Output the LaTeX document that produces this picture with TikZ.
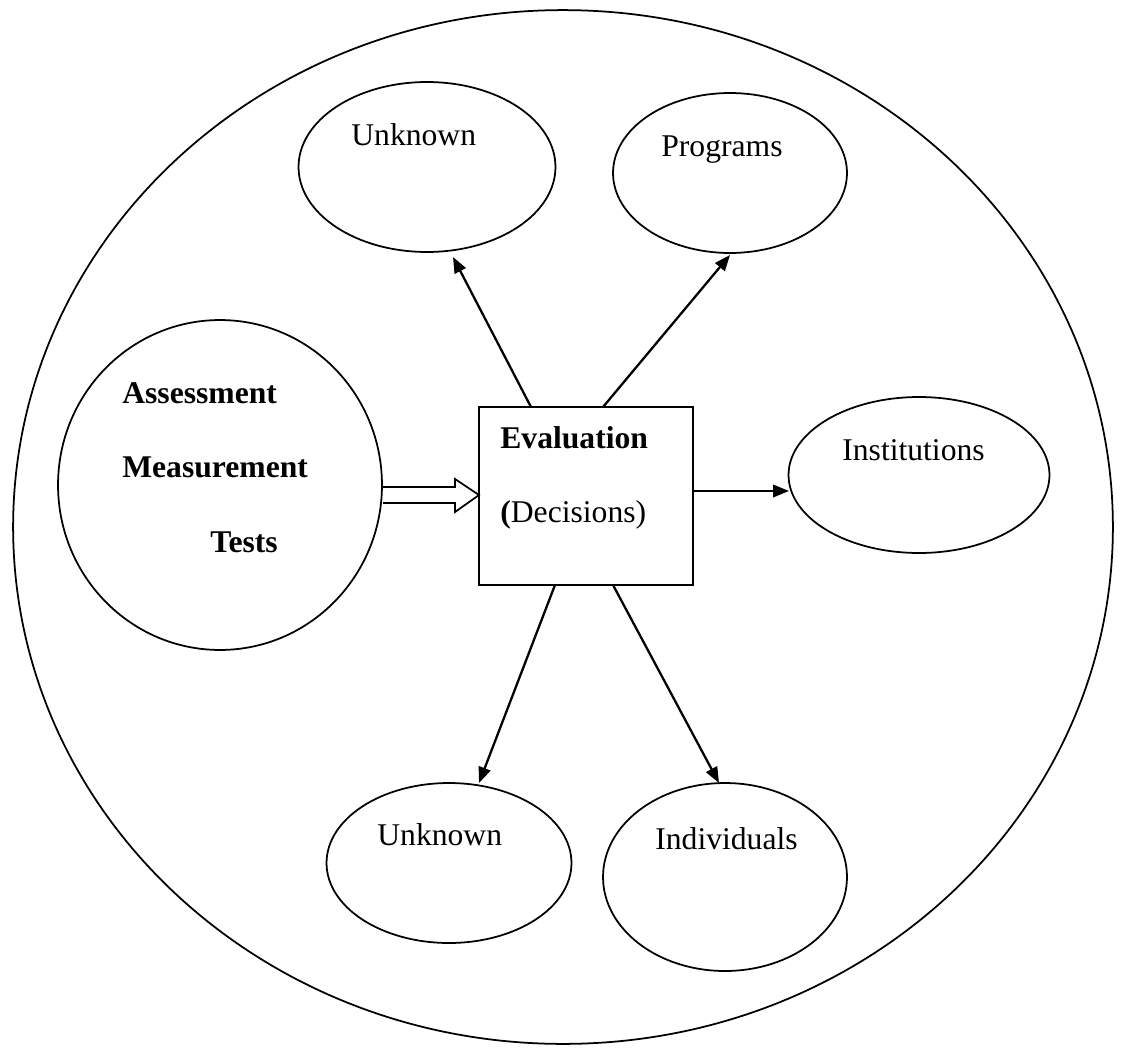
\documentclass[tikz,border=0pt]{standalone}
\usepackage{fontspec}
\setmainfont{Liberation Serif}
\usetikzlibrary{shapes.geometric,arrows.meta,calc}

\begin{document}
\begin{tikzpicture}[x=0.02cm,y=-0.02cm,
    bubble/.style={draw,ellipse,line width=1pt,inner sep=0pt,outer sep=0pt},
    lbl/.style={anchor=base west,inner sep=0pt,font=\fontsize{18}{22}\selectfont},
    arr/.style={line width=1.3pt,-{Triangle[length=9pt,width=7pt]}}]
\useasboundingbox (0,0) rectangle (1122,1048);

% outer circle
\node[bubble,minimum width=22cm,minimum height=20.68cm] (world) at (563,527) {};

% left bubble and box
\node[bubble,minimum width=6.48cm,minimum height=6.6cm] (assess) at (220,485) {};
\node[draw,line width=1pt,inner sep=0pt,outer sep=0pt,minimum width=4.28cm,minimum height=3.56cm] (eval) at (586,496) {};

% target bubbles
\node[bubble,minimum width=5.14cm,minimum height=3.4cm] (unkA) at (427,167) {};
\node[bubble,minimum width=4.68cm,minimum height=3.2cm] (prog) at (730,173) {};
\node[bubble,minimum width=5.22cm,minimum height=3.12cm] (inst) at (919,475) {};
\node[bubble,minimum width=4.9cm,minimum height=3.2cm] (unkB) at (449,863) {};
\node[bubble,minimum width=4.88cm,minimum height=3.76cm] (indiv) at (725,877) {};

% texts
\node[lbl] (tAss) at (122,403) {\textbf{Assessment}};
\node[lbl] (tMea) at (122,477) {\textbf{Measurement}};
\node[lbl] (tTes) at (210,552) {\textbf{Tests}};
\node[lbl] (tEva) at (500,448) {\textbf{Evaluation}};
\node[lbl] (tDec) at (500,522) {\textbf{(}Decisions)};
\node[lbl] (tUnkA) at (351,145) {Unknown};
\node[lbl] (tProg) at (661,156) {Programs};
\node[lbl] (tInst) at (842,460) {Institutions};
\node[lbl] (tUnkB) at (377,845) {Unknown};
\node[lbl] (tIndiv) at (655,849) {Individuals};

% hollow arrow
\coordinate (ha) at (383,495);
\draw[line width=1pt,line join=miter] (ha) ++(0,-8) -- ++(72,0) -- ++(0,-8)
    -- (eval.west |- ha) -- ($(ha)+(72,17)$) -- ++(0,-9) -- ($(ha)+(0,8)$);

% arrows
\coordinate (pA) at (453,257);
\coordinate (pP) at (730,255);
\coordinate (pI) at (789,491);
\coordinate (pB) at (479,783);
\coordinate (pD) at (719,783);
\draw[arr] ($(eval.north)+(-55,0)$) -- (pA);
\draw[arr] ($(eval.north)+(17,0)$) -- (pP);
\draw[arr] ($(eval.east)+(0,-5)$) -- (pI);
\draw[arr] ($(eval.south)+(-31,0)$) -- (pB);
\draw[arr] ($(eval.south)+(27,0)$) -- (pD);
\end{tikzpicture}
\end{document}
